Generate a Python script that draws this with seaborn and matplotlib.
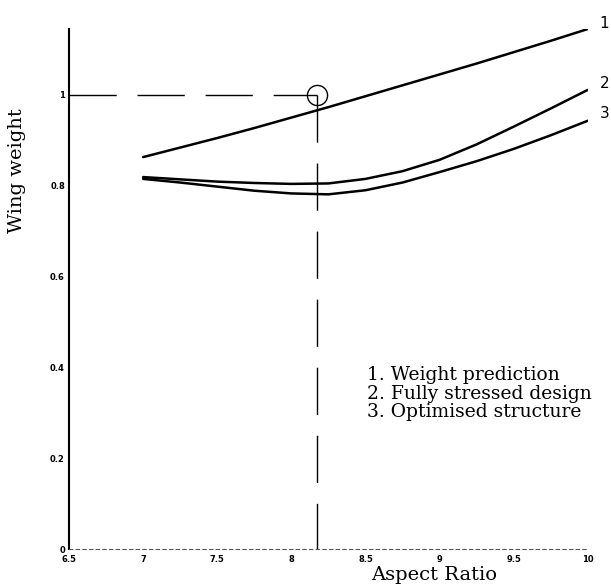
import pandas as pd
import matplotlib
matplotlib.use('Agg')
import matplotlib.pyplot as plt
import seaborn as sns

# values
aspect_ratio = [7, 7.25, 7.5, 7.75, 8, 8.25, 8.5, 8.75, 9, 9.25, 9.5, 9.75, 10]
weight_prediction = [0.863, 0.884, 0.905, 0.927, 0.950, 0.973, 0.997, 1.021, 1.045, 1.069, 1.094, 1.119, 1.145]
fully_stressed = [0.819, 0.814, 0.809, 0.806, 0.804, 0.805, 0.815, 0.832, 0.857, 0.891, 0.930, 0.970, 1.011]
optimised = [0.815, 0.807, 0.798, 0.789, 0.783, 0.781, 0.790, 0.807, 0.830, 0.854, 0.881, 0.911, 0.943]
curve_tags = ['1', '2', '3']
curve_tag_y = [1.158, 1.026, 0.960]
legend_lines = ['1. Weight prediction', '2. Fully stressed design', '3. Optimised structure']
legend_y = [0.383, 0.342, 0.301]
design_point = (8.17, 1.0)
x_ticks = [6.5, 7, 7.5, 8, 8.5, 9, 9.5, 10]
x_tick_labels = ['6.5', '7', '7.5', '8', '8.5', '9', '9.5', '10']
y_ticks = [0, 0.2, 0.4, 0.6, 0.8, 1]
y_tick_labels = ['0', '0.2', '0.4', '0.6', '0.8', '1']

df = pd.DataFrame({'Aspect Ratio': aspect_ratio * 3,
                   'Wing weight': weight_prediction + fully_stressed + optimised,
                   'curve': [1] * 13 + [2] * 13 + [3] * 13})

sns.set_style('white')
plt.rcParams['font.family'] = ['DejaVu Serif']

fig = plt.figure(figsize=(6.11, 5.86), dpi=100)
ax = fig.add_axes([0.113, 0.063, 0.849, 0.8875])

for c in [1, 2, 3]:
    sns.lineplot(data=df[df['curve'] == c], x='Aspect Ratio', y='Wing weight',
                 color='black', linewidth=1.8, ax=ax, legend=False)

# dashed guide lines to the design point
ax.plot([6.5, design_point[0]], [design_point[1], design_point[1]], color='black',
        linewidth=1.0, dashes=(34, 15))
ax.plot([design_point[0], design_point[0]], [design_point[1], 0], color='black',
        linewidth=1.0, dashes=(34, 15))
ax.plot([design_point[0]], [design_point[1]], marker='o', markersize=14.5,
        markerfacecolor='none', markeredgecolor='black', markeredgewidth=1.0)

for tag, ty in zip(curve_tags, curve_tag_y):
    ax.text(10.08, ty, tag, fontsize=11, family='DejaVu Sans', color='black',
            ha='left', va='center', clip_on=False)

for line, ly in zip(legend_lines, legend_y):
    ax.text(8.51, ly, line, fontsize=13.5, ha='left', va='center', color='black')

ax.set_xlim(6.5, 10)
ax.set_ylim(0, 1.145)
ax.set_xticks(x_ticks)
ax.set_xticklabels(x_tick_labels, family='DejaVu Sans', fontweight='bold', fontsize=6)
ax.set_yticks(y_ticks)
ax.set_yticklabels(y_tick_labels, family='DejaVu Sans', fontweight='bold', fontsize=6)
ax.tick_params(axis='both', direction='in', length=4, width=0.8, pad=3, colors='black')
ax.tick_params(axis='x', pad=4)

ax.set_xlabel('')
ax.set_ylabel('Wing weight', fontsize=14, color='black')
ax.yaxis.set_label_coords(-0.083, 0.727)
fig.text(0.711, 0.018, 'Aspect Ratio', fontsize=14, ha='center', va='center', color='black')

for s in ['top', 'right']:
    ax.spines[s].set_visible(False)
ax.spines['left'].set_linewidth(1.5)
ax.spines['left'].set_color('black')
ax.spines['bottom'].set_linewidth(0.8)
ax.spines['bottom'].set_color('#555555')
ax.spines['bottom'].set_linestyle((0, (3, 3)))

plt.savefig('out.png', dpi=100)
